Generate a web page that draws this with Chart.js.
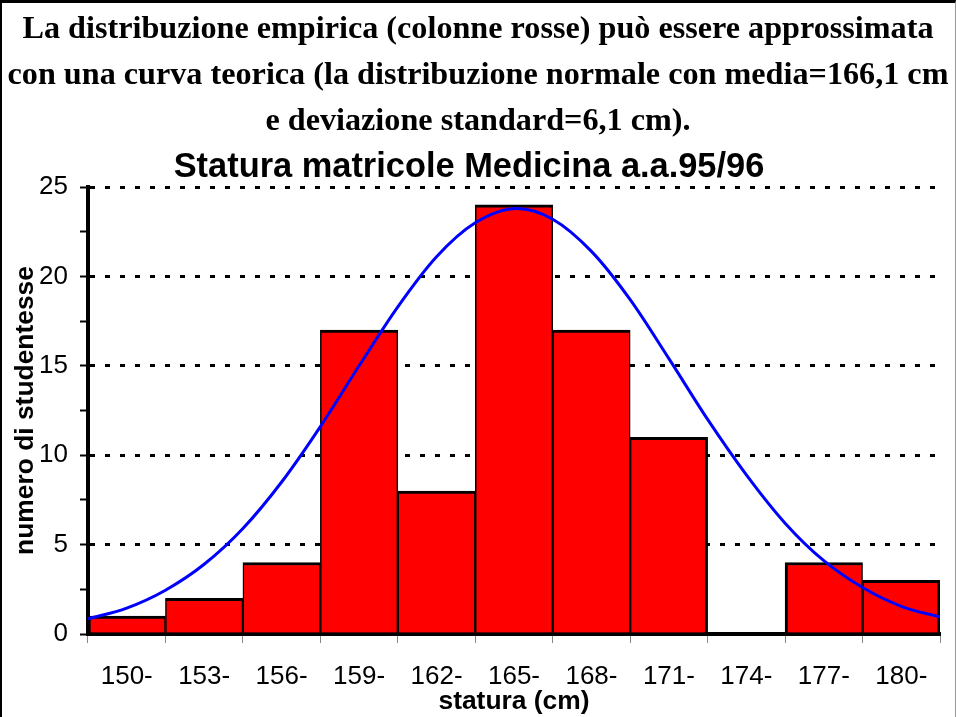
<!DOCTYPE html>
<html>
<head>
<meta charset="utf-8">
<script src="https://cdn.jsdelivr.net/npm/chart.js@4/dist/chart.umd.min.js"></script>
<style>
  html, body { margin: 0; padding: 0; background: #fff; }
  #frame { position: absolute; left: 0; top: 0; width: 956px; height: 717px;
           border-top: 3px solid #000; border-left: 2px solid #000; border-right: 1px solid #999; box-sizing: border-box; }
  #header { position: absolute; left: 0; top: 4px; width: 956px; text-align: center;
            font-family: "Liberation Serif", "Times New Roman", serif; font-weight: bold; font-size: 32.2px; line-height: 46px; color: #000; }
  #ctitle { position: absolute; left: 0; top: 145px; width: 938px; text-align: center;
            font-family: "Liberation Sans", Arial, sans-serif; font-weight: bold; font-size: 34.4px; line-height: 40px; color: #000; }
  #wrap { position: absolute; left: 0; top: 0; width: 956px; height: 717px; }
</style>
</head>
<body>
<div id="wrap"><canvas id="c" width="956" height="717"></canvas></div>
<div id="frame"></div>
<div id="header">La distribuzione empirica (colonne rosse) può essere approssimata<br>con una curva teorica (la distribuzione normale con media=166,1 cm<br>e deviazione standard=6,1 cm).</div>
<div id="ctitle">Statura matricole Medicina a.a.95/96</div>
<script>
// ---- data ----
const categories = ['150-','153-','156-','159-','162-','165-','168-','171-','174-','177-','180-'];
const counts = [1, 2, 4, 17, 8, 24, 17, 11, 0, 4, 3];
// theoretical curve (normal approx.), values at these statures (cm)
const curveX = [149.5, 151, 152.5, 154, 155.5, 157, 158.5, 160, 161.5, 163, 164.5, 166.1, 167.5, 169, 170.5, 172, 173.5, 175, 176.5, 178, 179.5, 181, 182.5];
const curveY = [0.85, 1.45, 2.45, 3.9, 5.9, 8.5, 11.6, 15.0, 18.3, 21.1, 23.0, 23.8, 23.2, 21.4, 18.7, 15.4, 12.0, 8.9, 6.2, 4.1, 2.6, 1.55, 0.95];
const yTicksMajor = [0, 5, 10, 15, 20, 25];
const yTitle = 'numero di studentesse';
const xTitle = 'statura (cm)';

const curvePoints = curveX.map((x, i) => ({ x: x, y: curveY[i] }));

function barBorder(ctx) {
  const i = ctx.dataIndex;
  const left = (i > 0 && counts[i - 1] > 0) ? 1.5 : 3;
  const right = (i < counts.length - 1 && counts[i + 1] > 0) ? 1.5 : 3;
  return { top: 3, left: left, right: right, bottom: 0 };
}

const FONT = 'Liberation Sans, Arial, sans-serif';

new Chart(document.getElementById('c'), {
  type: 'bar',
  data: {
    labels: categories,
    datasets: [
      {
        type: 'line',
        data: curvePoints,
        xAxisID: 'x2',
        yAxisID: 'y',
        borderColor: '#0000FF',
        borderWidth: 3,
        pointRadius: 0,
        fill: false,
        cubicInterpolationMode: 'monotone',
        order: 0
      },
      {
        type: 'bar',
        data: counts,
        xAxisID: 'x',
        yAxisID: 'y',
        backgroundColor: '#FF0000',
        borderColor: '#000000',
        borderWidth: barBorder,
        borderSkipped: false,
        grouped: false,
        categoryPercentage: 1.0,
        barPercentage: 1.0,
        order: 1
      }
    ]
  },
  options: {
    responsive: false,
    animation: false,
    devicePixelRatio: 1,
    layout: { padding: { top: 187, left: 2, right: 16, bottom: 3 } },
    plugins: { legend: { display: false }, tooltip: { enabled: false }, title: { display: false } },
    scales: {
      x: {
        type: 'category',
        position: 'bottom',
        offset: true,
        afterFit: (scale) => { scale.height = 80; },
        grid: { display: true, drawOnChartArea: false, offset: true, tickLength: 9, tickColor: '#888', tickWidth: 1 },
        border: { display: true, color: '#000', width: 4 },
        ticks: { color: '#000', font: { family: FONT, size: 26 }, padding: 18, maxRotation: 0, autoSkip: false },
        title: { display: true, text: xTitle, color: '#000', font: { family: FONT, size: 26.4, weight: 'bold' }, padding: { top: 0, bottom: -4 } }
      },
      x2: {
        type: 'linear',
        display: false,
        offset: false,
        min: 149.5,
        max: 182.5
      },
      y: {
        type: 'linear',
        min: 0,
        max: 25,
        afterFit: (scale) => { scale.width = 86; },
        grid: {
          color: (ctx) => (ctx.tick && ctx.tick.value % 5 === 0 && ctx.tick.value !== 0) ? '#000' : 'rgba(0,0,0,0)',
          lineWidth: 3,
          tickColor: '#000',
          tickWidth: 2,
          tickLength: 8
        },
        border: { display: true, color: '#000', width: 4, dash: [5, 10] },
        ticks: {
          stepSize: 2.5,
          color: '#000',
          font: { family: FONT, size: 26 },
          padding: 12,
          callback: (v) => yTicksMajor.includes(v) ? String(v) : ''
        },
        title: { display: true, text: yTitle, color: '#000', font: { family: FONT, size: 26.4, weight: 'bold' }, padding: { top: 8, bottom: 0 } }
      }
    }
  }
});
</script>
</body>
</html>
